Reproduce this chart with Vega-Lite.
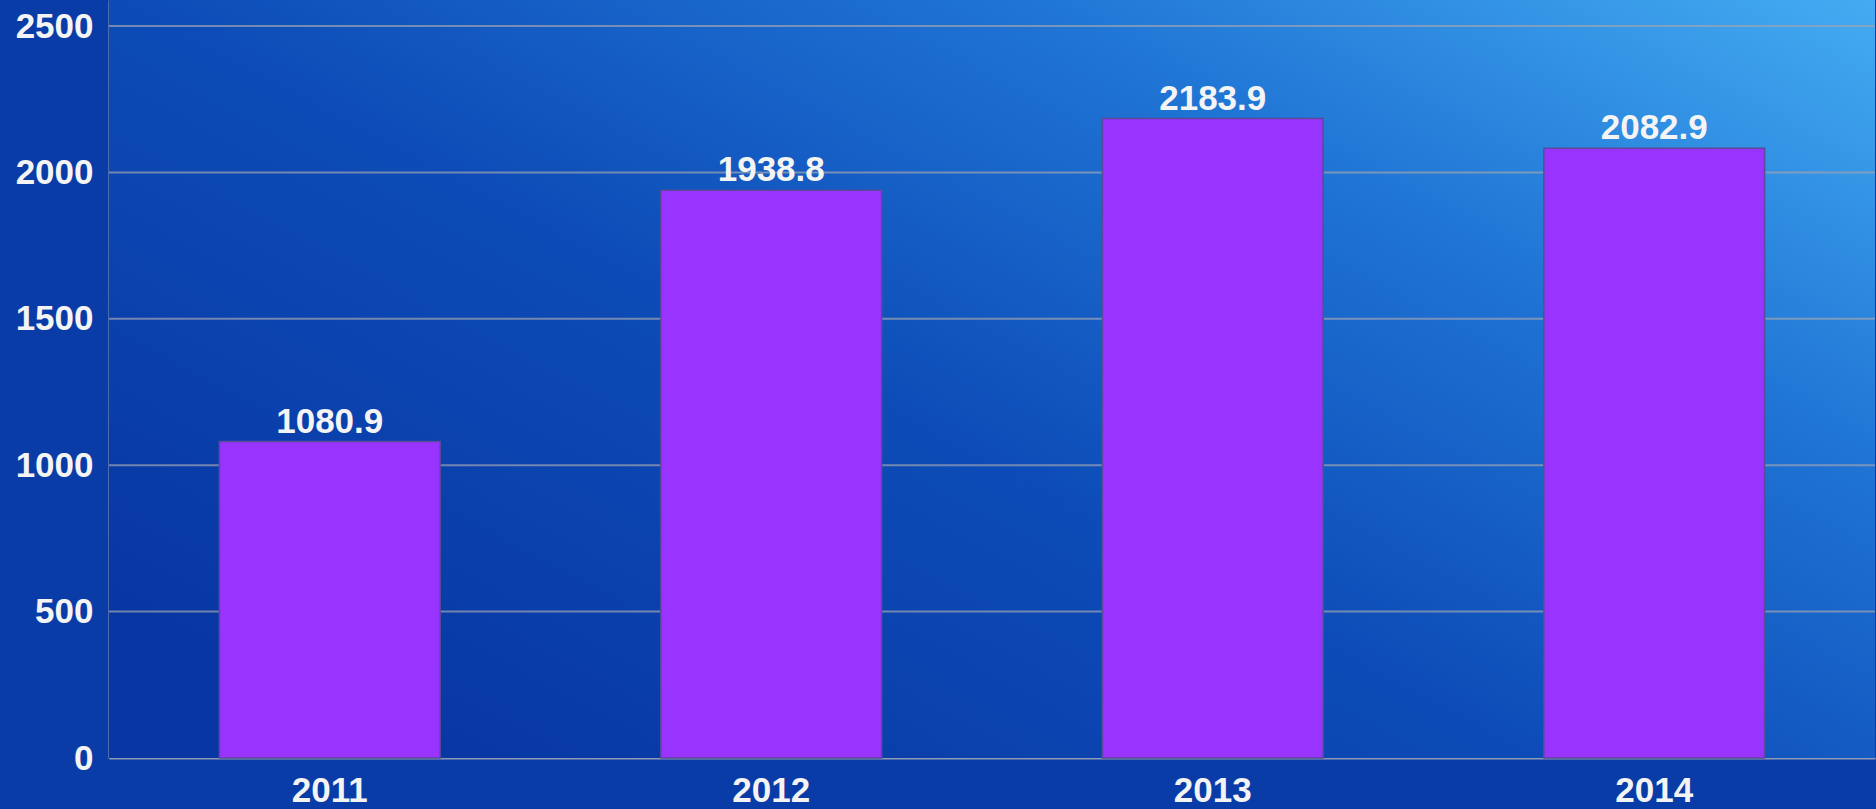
{
  "$schema": "https://vega.github.io/schema/vega-lite/v6.json",
  "width": 1876,
  "height": 809,
  "autosize": {"type": "fit", "contains": "padding"},
  "padding": 0,
  "background": "#0a3ca8",
  "config": {
    "view": {"stroke": null},
    "font": "Liberation Sans"
  },
  "data": {
    "values": [
      {"year": "2011", "value": 1080.9},
      {"year": "2012", "value": 1938.8},
      {"year": "2013", "value": 2183.9},
      {"year": "2014", "value": 2082.9}
    ]
  },
  "layer": [
    {
      "data": {"values": [{"bg": 1}]},
      "mark": {
        "type": "rect",
        "color": {
          "gradient": "linear",
          "x1": 0, "y1": 0.8, "x2": 1, "y2": 0,
          "stops": [
            {"offset": 0, "color": "#0836a2"},
            {"offset": 0.4, "color": "#0d4cb8"},
            {"offset": 0.7, "color": "#1f74d4"},
            {"offset": 1, "color": "#44acf2"}
          ]
        }
      },
      "encoding": {}
    },
    {
      "data": {"values": [{"tick": 500}, {"tick": 1000}, {"tick": 1500}, {"tick": 2000}, {"tick": 2500}]},
      "mark": {"type": "rule", "color": "#a0a4b0", "opacity": 0.7, "strokeWidth": 2},
      "encoding": {
        "y": {"field": "tick", "type": "quantitative"}
      }
    },
    {
      "mark": {"type": "bar", "color": "#9933ff", "stroke": "#5b4a9a", "strokeWidth": 1.5},
      "encoding": {
        "x": {
          "field": "year", "type": "nominal",
          "scale": {"paddingInner": 0.5, "paddingOuter": 0.25},
          "axis": {
            "title": null, "labelAngle": 0, "ticks": false,
            "labelFontSize": 35, "labelFontWeight": "bold", "labelColor": "#f4f4f4",
            "labelPadding": 15, "minExtent": 51, "maxExtent": 51,
            "domainColor": "#8f9bb4", "domainWidth": 2
          }
        },
        "y": {
          "field": "value", "type": "quantitative",
          "scale": {"domain": [0, 2589], "nice": false},
          "axis": {
            "title": null, "values": [0, 500, 1000, 1500, 2000, 2500], "format": "d",
            "grid": false,
            "ticks": false, "labelFontSize": 35, "labelFontWeight": "bold",
            "labelColor": "#f4f4f4", "labelPadding": 16,
            "minExtent": 109, "maxExtent": 109,
            "domainColor": "#8f9bb4", "domainWidth": 2
          }
        }
      }
    },
    {
      "mark": {"type": "text", "baseline": "alphabetic", "dy": -9, "fontSize": 35, "fontWeight": "bold", "color": "#f4f4f4"},
      "encoding": {
        "x": {"field": "year", "type": "nominal"},
        "y": {"field": "value", "type": "quantitative"},
        "text": {"field": "value", "type": "quantitative", "format": ".1f"}
      }
    }
  ]
}
